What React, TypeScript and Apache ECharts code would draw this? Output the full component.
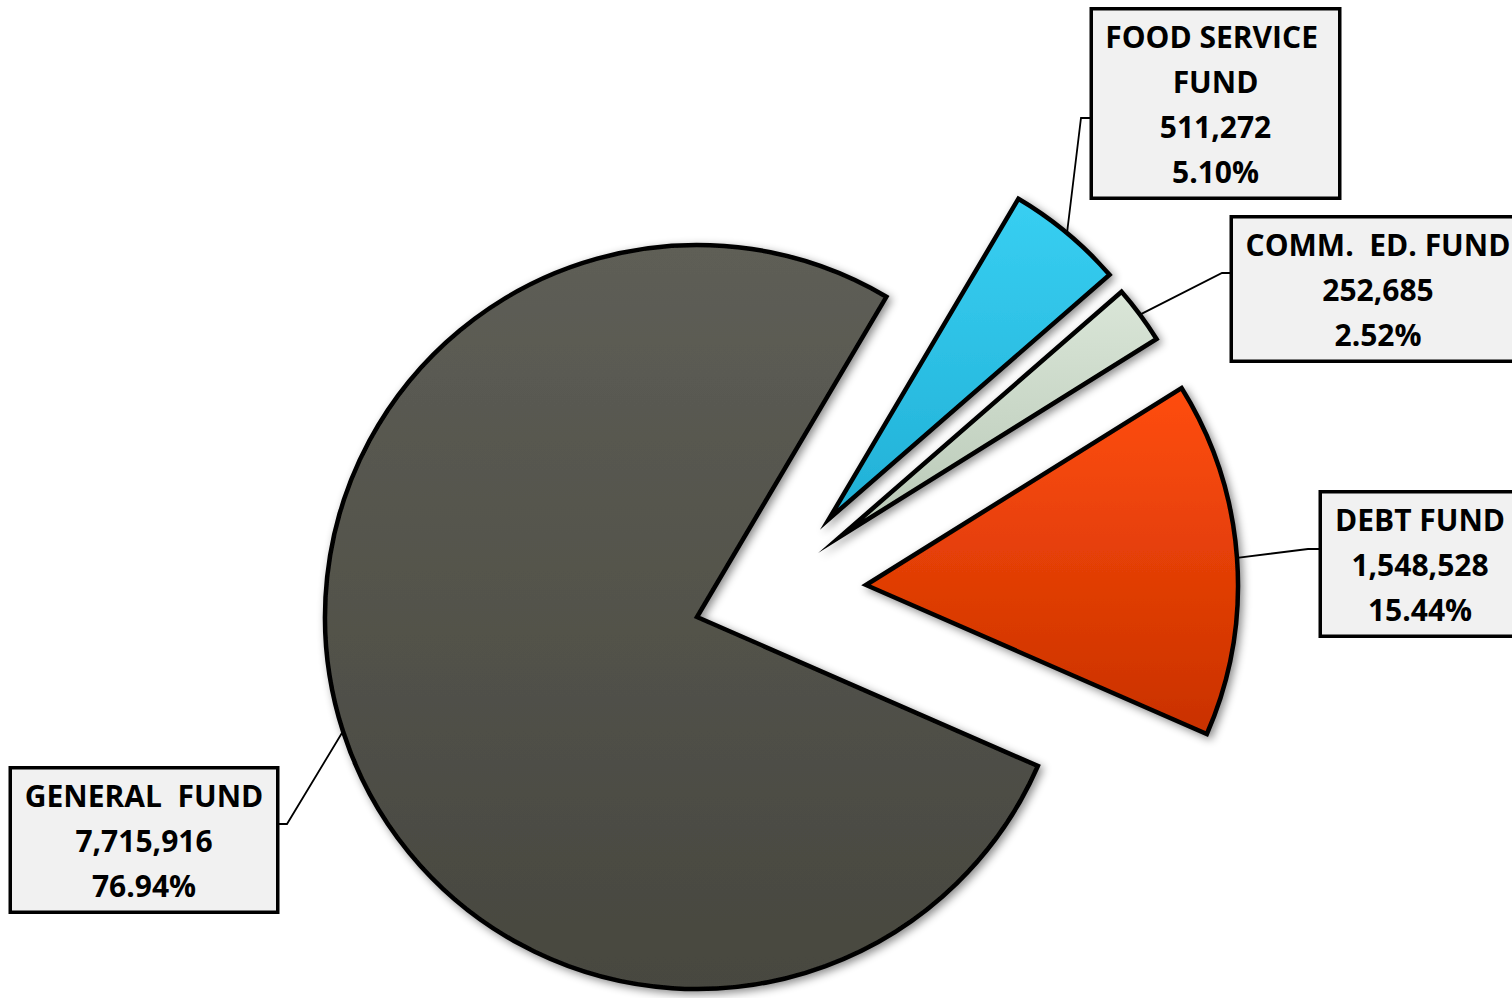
import React, { useEffect, useRef } from "react";
import * as echarts from "echarts";

// ---- data ----
const categories = ["FOOD SERVICE FUND", "COMM.  ED. FUND", "DEBT FUND", "GENERAL  FUND"];
const values = [511272, 252685, 1548528, 7715916];

// ---- styles ----
const sliceColors: string[][] = [
  ["#38cff2", "#21b0d6"],
  ["#dae6d8", "#b8c8b6"],
  ["#ff4d0d", "#c93100"],
  ["#5e5e56", "#47473f"],
];

// ---- layout (positions in px) ----
const sliceCenters: number[][] = [
  [829, 519],
  [841, 536],
  [866, 585],
  [697, 617],
];
const labelBoxes = [
  { cx: 1215.5, cy: 103.5, w: 245 },
  { cx: 1378, cy: 289, w: 290 },
  { cx: 1420, cy: 564, w: 196 },
  { cx: 144, cy: 840, w: 264 },
];
const labelElbows: number[][][] = [
  [[1081, 118], [1093, 118]],
  [[1222, 273], [1233, 273]],
  [[1308, 549], [1322, 549]],
  [[287, 824], [276, 824]],
];

export default function App() {
  const ref = useRef<HTMLDivElement>(null);
  useEffect(() => {
    if (!ref.current) return;
    const chart = echarts.init(ref.current, null, { renderer: "svg" });
    const series = categories.map((_, si) => ({
      type: "pie",
      center: sliceCenters[si],
      radius: 372,
      startAngle: 59.4,
      clockwise: true,
      avoidLabelOverlap: false,
      silent: true,
      percentPrecision: 2,
      z: si === 3 ? 1 : 2,
      data: categories.map((name, i) =>
        i === si
          ? {
              name,
              value: values[i],
              itemStyle: {
                color: {
                  type: "linear",
                  x: 0,
                  y: 0,
                  x2: 0,
                  y2: 1,
                  colorStops: [
                    { offset: 0, color: sliceColors[i][0] },
                    { offset: 1, color: sliceColors[i][1] },
                  ],
                },
                borderColor: "#000",
                borderWidth: 4.5,
                borderJoin: "miter",
                borderMiterLimit: 20,
                shadowBlur: 8,
                shadowColor: "rgba(0,0,0,0.45)",
                shadowOffsetX: 3,
                shadowOffsetY: 3,
              },
              label: {
                show: true,
                position: "outside",
                formatter: (p: any) =>
                  `${p.name}\n${Number(p.value).toLocaleString("en-US")}\n${Number(p.percent).toFixed(2)}%`,
                color: "#000",
                fontFamily: "Open Sans",
                fontWeight: "bold",
                fontSize: 30,
                lineHeight: 45,
                align: "center",
                width: labelBoxes[i].w - 12,
                overflow: "break",
                backgroundColor: "#f1f1f1",
                borderColor: "#000",
                borderWidth: 3.5,
                padding: [3, 6],
              },
              labelLine: {
                show: true,
                length: 20,
                length2: 20,
                lineStyle: { color: "#000", width: 1.8 },
              },
            }
          : {
              name,
              value: values[i],
              itemStyle: { color: "rgba(0,0,0,0)", borderWidth: 0, shadowBlur: 0 },
              label: { show: false },
              labelLine: { show: false },
            }
      ),
      labelLayout: (p: any) => {
        if (p.dataIndex !== si) return {};
        const b = labelBoxes[si];
        const start = p.labelLinePoints ? p.labelLinePoints[0] : labelElbows[si][0];
        return {
          x: b.cx,
          y: b.cy,
          align: "center",
          verticalAlign: "middle",
          labelLinePoints: [start, labelElbows[si][0], labelElbows[si][1]],
        };
      },
    }));
    chart.setOption({ animation: false, backgroundColor: "#ffffff", series });
    return () => chart.dispose();
  }, []);
  return (
    <div
      ref={ref}
      style={{ position: "absolute", left: 0, top: 0, width: 1512, height: 998 }}
    />
  );
}
